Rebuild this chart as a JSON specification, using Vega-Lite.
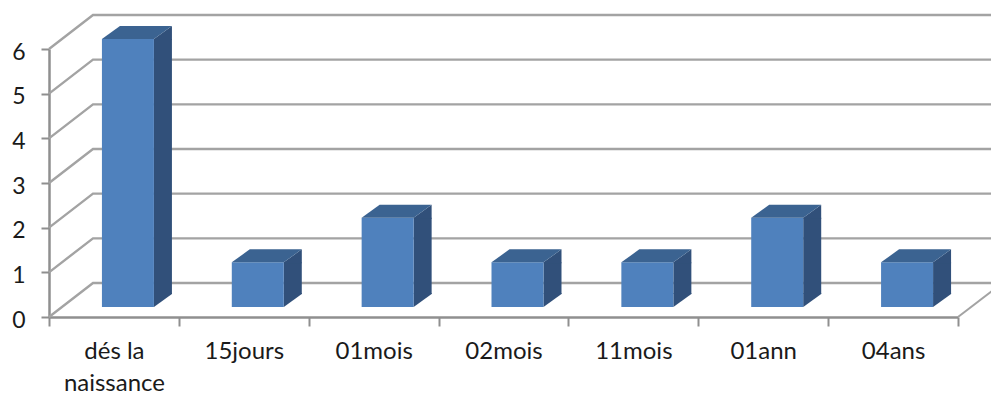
{
  "$schema": "https://vega.github.io/schema/vega-lite/v6.json",
  "width": 909,
  "height": 268,
  "autosize": {"type": "none"},
  "padding": {"left": 49, "top": 49, "right": 33, "bottom": 77},
  "background": "white",
  "config": {"view": {"stroke": null}},
  "datasets": {
    "effectifs": [
      {"periode": "dés la naissance", "effectif": 6},
      {"periode": "15jours", "effectif": 1},
      {"periode": "01mois", "effectif": 2},
      {"periode": "02mois", "effectif": 1},
      {"periode": "11mois", "effectif": 1},
      {"periode": "01ann", "effectif": 2},
      {"periode": "04ans", "effectif": 1}
    ],
    "graduations": [
      {"niveau": 0}, {"niveau": 1}, {"niveau": 2}, {"niveau": 3},
      {"niveau": 4}, {"niveau": 5}, {"niveau": 6}
    ]
  },
  "encoding": {
    "x": {
      "field": "periode",
      "type": "nominal",
      "sort": null,
      "scale": {
        "domain": ["dés la naissance", "15jours", "01mois", "02mois", "11mois", "01ann", "04ans"],
        "paddingInner": 0,
        "paddingOuter": 0
      },
      "axis": {
        "title": null,
        "labelAngle": 0,
        "labelFont": "Lato",
        "labelFontSize": 24,
        "labelColor": "#1a1a1a",
        "labelPadding": 13,
        "labelLineHeight": 32,
        "labelExpr": "datum.value == 'dés la naissance' ? ['dés la', 'naissance'] : datum.value",
        "tickBand": "extent",
        "tickSize": 9,
        "tickWidth": 2,
        "tickColor": "#8f8f8f",
        "domainWidth": 2.5,
        "domainColor": "#8f8f8f",
        "grid": false
      }
    },
    "y": {
      "field": "effectif",
      "type": "quantitative",
      "stack": null,
      "scale": {"domain": [0, 6], "nice": false},
      "axis": {
        "title": null,
        "values": [0, 1, 2, 3, 4, 5, 6],
        "labelFont": "Lato",
        "labelFontSize": 23,
        "labelColor": "#1a1a1a",
        "labelPadding": 16,
        "labelOffset": 3,
        "tickSize": 8,
        "tickWidth": 2,
        "tickColor": "#8f8f8f",
        "domainWidth": 2.5,
        "domainColor": "#8f8f8f",
        "grid": false
      }
    }
  },
  "layer": [
    {
      "description": "Left wall diagonal and back wall line at each graduation",
      "data": {"name": "graduations"},
      "mark": {
        "type": "point",
        "shape": "M0,0L44,-34L942,-34",
        "size": 4,
        "filled": false,
        "opacity": 1,
        "stroke": "#a3a3a3",
        "strokeWidth": 2.4
      },
      "encoding": {
        "x": {"datum": "dés la naissance", "bandPosition": 0},
        "y": {"field": "niveau", "type": "quantitative"}
      }
    },
    {
      "description": "Right edge of the floor",
      "data": {"values": [{"niveau": 0}]},
      "mark": {
        "type": "point",
        "shape": "M0,0L34,-26",
        "size": 4,
        "filled": false,
        "opacity": 1,
        "stroke": "#a3a3a3",
        "strokeWidth": 2
      },
      "encoding": {
        "x": {"datum": "04ans", "bandPosition": 1},
        "y": {"field": "niveau", "type": "quantitative"}
      }
    },
    {
      "description": "Side face, straight part",
      "data": {"name": "effectifs"},
      "mark": {
        "type": "bar",
        "width": 18,
        "xOffset": 49,
        "yOffset": -10,
        "y2Offset": -23,
        "color": "#31507a"
      },
      "encoding": {"y2": {"datum": 0}}
    },
    {
      "description": "Side face, slanted top end",
      "data": {"name": "effectifs"},
      "mark": {
        "type": "point",
        "shape": "M26,0L44,-13L44,1L26,1Z",
        "size": 4,
        "filled": true,
        "opacity": 1,
        "color": "#31507a",
        "xOffset": 14,
        "yOffset": -10
      }
    },
    {
      "description": "Side face, slanted bottom end",
      "data": {"name": "effectifs"},
      "mark": {
        "type": "point",
        "shape": "M26,0L44,-13L44,-14L26,-14Z",
        "size": 4,
        "filled": true,
        "opacity": 1,
        "color": "#31507a",
        "xOffset": 14,
        "yOffset": -10
      },
      "encoding": {"y": {"datum": 0, "type": "quantitative"}}
    },
    {
      "description": "Front face",
      "data": {"name": "effectifs"},
      "mark": {
        "type": "bar",
        "width": 52,
        "xOffset": 14,
        "yOffset": -10,
        "y2Offset": -10,
        "color": "#4f81bd"
      },
      "encoding": {"y2": {"datum": 0}}
    },
    {
      "description": "Top face",
      "data": {"name": "effectifs"},
      "mark": {
        "type": "point",
        "shape": "M-26,0L-8,-13L44,-13L26,0Z",
        "size": 4,
        "filled": true,
        "opacity": 1,
        "color": "#3b6391",
        "xOffset": 14,
        "yOffset": -10
      }
    }
  ]
}
